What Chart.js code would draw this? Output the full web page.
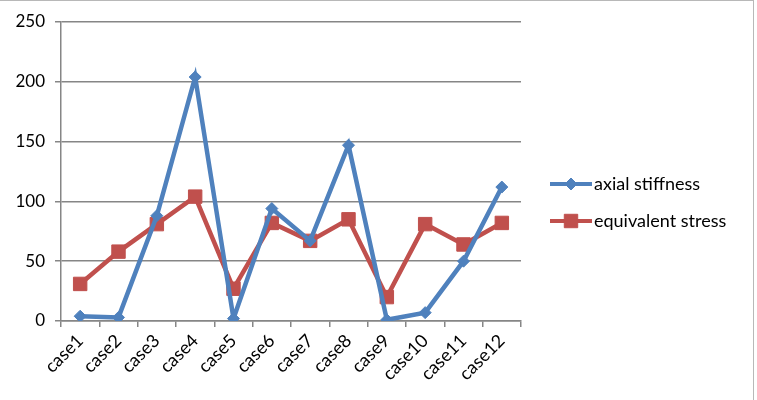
<!DOCTYPE html>
<html>
<head>
<meta charset="utf-8">
<script src="https://cdn.jsdelivr.net/npm/chart.js@4"></script>
<style>
    body { margin: 0; background: #fff; }
    #frame { position: relative; width: 757px; height: 400px; }
    #frame:before { content: ''; position: absolute; left: 0; top: 0; width: 753px; height: 399px;
        border-top: 1px solid #b8b8b8; border-right: 1px solid #b8b8b8; pointer-events: none; }
</style>
</head>
<body>
<div id="frame"><canvas id="chart" width="757" height="400"></canvas></div>
<script>
var categories = ['case1', 'case2', 'case3', 'case4', 'case5', 'case6', 'case7', 'case8', 'case9', 'case10', 'case11', 'case12'];
var axialStiffness = [4, 3, 88, 204, 2, 94, 67, 147, 1, 7, 50, 112];
var equivalentStress = [31, 58, 81, 104, 27, 82, 67, 85, 20, 81, 64, 82];
var yTicks = [0, 50, 100, 150, 200, 250];

var BLUE = '#4f81bd';
var RED = '#c0504d';
var FONT = 'Lato, "Open Sans", sans-serif';

// legend drawn by hand: line with marker, like the office chart
var sideLegend = {
    id: 'sideLegend',
    afterDraw: function (chart) {
        var ctx = chart.ctx;
        chart.data.datasets.forEach(function (ds, i) {
            var y = 184 + i * 37;
            ctx.save();
            ctx.strokeStyle = ds.borderColor;
            ctx.lineWidth = 4;
            ctx.beginPath();
            ctx.moveTo(550, y);
            ctx.lineTo(592, y);
            ctx.stroke();
            ctx.fillStyle = ds.pointBackgroundColor;
            ctx.strokeStyle = ds.pointBorderColor;
            ctx.lineWidth = 1;
            Chart.helpers.drawPoint(ctx, {pointStyle: ds.pointStyle, radius: ds.pointRadius, borderWidth: 1}, 571, y);
            ctx.fillStyle = '#000';
            ctx.font = '18px ' + FONT;
            ctx.textBaseline = 'middle';
            ctx.fillText(ds.label, 594, y);
            ctx.restore();
        });
    }
};

new Chart(document.getElementById('chart'), {
    type: 'line',
    data: {
        labels: categories,
        datasets: [
            {
                label: 'axial stiffness',
                data: axialStiffness,
                borderColor: BLUE,
                backgroundColor: BLUE,
                pointBackgroundColor: BLUE,
                pointBorderColor: BLUE,
                borderWidth: 4.5,
                pointStyle: 'rectRot',
                pointRadius: 6,
                pointBorderWidth: 1,
                tension: 0
            },
            {
                label: 'equivalent stress',
                data: equivalentStress,
                borderColor: RED,
                backgroundColor: RED,
                pointBackgroundColor: RED,
                pointBorderColor: RED,
                borderWidth: 4.5,
                pointStyle: 'rect',
                pointRadius: 9.5,
                pointBorderWidth: 1,
                tension: 0
            }
        ]
    },
    options: {
        responsive: false,
        animation: false,
        layout: { padding: { left: 0, right: 236, top: 22, bottom: 0 } },
        plugins: {
            legend: { display: false },
            tooltip: { enabled: false }
        },
        scales: {
            x: {
                offset: true,
                afterFit: function (scale) { scale.height = 79; },
                grid: {
                    offset: true,
                    drawOnChartArea: false,
                    tickLength: 6,
                    color: '#868686',
                    lineWidth: 1.5
                },
                border: { color: '#868686', width: 1.5 },
                ticks: {
                    color: '#000',
                    font: { family: FONT, size: 18 },
                    minRotation: 45,
                    maxRotation: 45,
                    padding: 3
                }
            },
            y: {
                min: 0,
                max: 250,
                afterFit: function (scale) { scale.width = 61; },
                afterBuildTicks: function (scale) {
                    scale.ticks = yTicks.map(function (v) { return {value: v}; });
                },
                grid: {
                    color: '#868686',
                    lineWidth: 1.5,
                    tickLength: 6
                },
                border: { color: '#868686', width: 1.5 },
                ticks: {
                    color: '#000',
                    font: { family: FONT, size: 17 },
                    padding: 10
                }
            }
        }
    },
    plugins: [sideLegend]
});
</script>
</body>
</html>
